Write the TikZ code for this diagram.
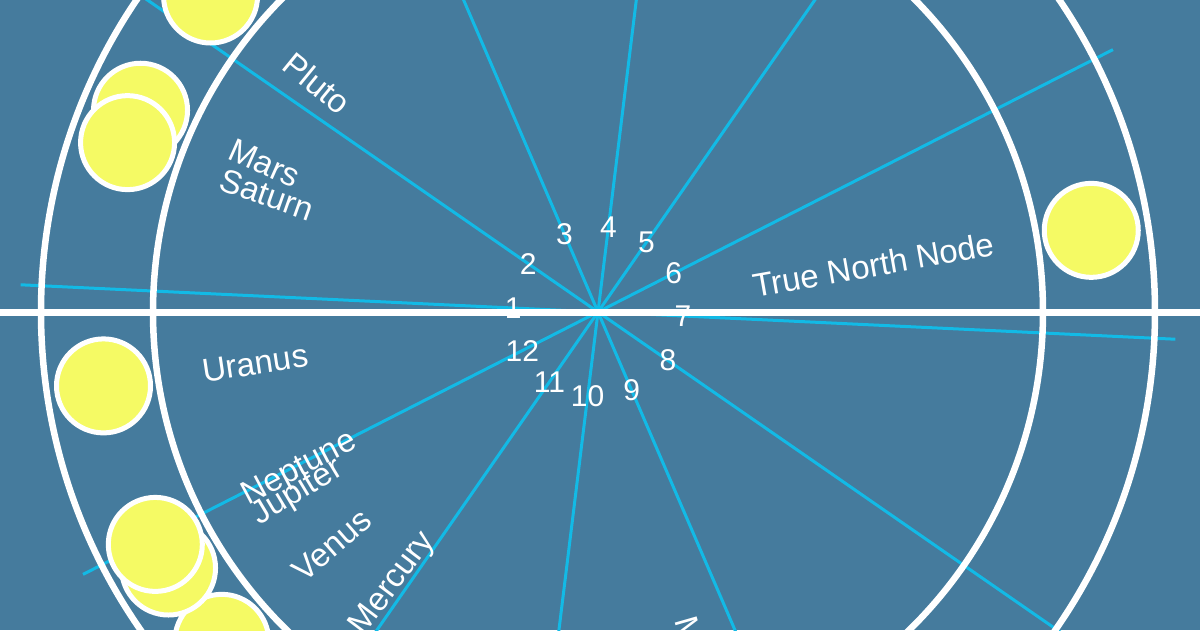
\documentclass[tikz,border=0pt]{standalone}
\usepackage{fontspec}
\setmainfont{Liberation Sans}
\usetikzlibrary{
  calc,
  positioning}
\definecolor{chartbg}{HTML}{457B9D}
\definecolor{cuspblue}{RGB}{18,186,230}
\definecolor{planetyellow}{RGB}{245,250,100}

\begin{document}
\begin{tikzpicture}[
  x=1pt,y=1pt,
  cusp/.style={draw=cuspblue,line width=3pt},
  ring/.style={draw=white,line width=6.5pt},
  horizon/.style={draw=white,line width=7pt},
  planet/.style={circle,draw=white,fill=planetyellow,line width=5pt,minimum size=94pt,inner sep=0pt},
  pleft/.style={anchor=west,text=white,inner sep=0pt,font=\fontsize{33}{39}\selectfont},
  pright/.style={anchor=east,text=white,inner sep=0pt,font=\fontsize{33}{39}\selectfont},
  hnum/.style={text=white,inner sep=0pt,font=\fontsize{30}{35}\selectfont}
]%
  \useasboundingbox (-598pt,-318pt) rectangle (602pt,312pt);
  \clip (-598pt,-318pt) rectangle (602pt,312pt);
  \fill[chartbg] (-598pt,-318pt) rectangle (602pt,312pt);

  \coordinate (c) at (0pt,0pt);

  % cusp lines
  \coordinate (cA1) at (177.3:578pt);
  \coordinate (cA2) at (357.3:578pt);
  \coordinate (cB1) at (145.3:578pt);
  \coordinate (cB2) at (325.3:578pt);
  \coordinate (cC1) at (113.3:578pt);
  \coordinate (cC2) at (293.3:578pt);
  \coordinate (cD1) at (83.0:578pt);
  \coordinate (cD2) at (263.0:578pt);
  \coordinate (cE1) at (55.2:578pt);
  \coordinate (cE2) at (235.2:578pt);
  \coordinate (cF1) at (27.0:578pt);
  \coordinate (cF2) at (207.0:578pt);

  \draw[cusp] (cA1) -- (cA2);
  \draw[cusp] (cB1) -- (cB2);
  \draw[cusp] (cC1) -- (cC2);
  \draw[cusp] (cD1) -- (cD2);
  \draw[cusp] (cE1) -- (cE2);
  \draw[cusp] (cF1) -- (cF2);

  \draw[ring] (c) circle (445pt);
  \draw[ring] (c) circle (557pt);

  \coordinate (hL) at (-598pt,0pt);
  \coordinate (hR) at (602pt,0pt);
  \draw[horizon] (hL) -- (hR);

  % planets
  \node[planet] (pVenus)   at (221.2:500pt) {};
  \node[planet] (pMars)    at (156.2:500pt) {};
  \node[planet] (pJupiter) at (210.8:500pt) {};
  \node[planet] (pSaturn)  at (160.2:500pt) {};
  \node[planet] (pUranus)  at (188.5:500pt) {};
  \node[planet] (pNeptune) at (207.7:500pt) {};
  \node[planet] (pPluto)   at (140.8:500pt) {};
  \node[planet] (pNode)    at (9.4:500pt)   {};

  \node[pright,rotate=-74]   (lMoon)    at (-74:400pt)    {Moon};
  \node[pleft,rotate=53]     (lMercury) at (233:400pt)    {Mercury};
  \node[pleft,rotate=41.2]   (lVenus)   at (221.2:400pt)  {Venus};
  \node[pleft,rotate=-24]    (lMars)    at (156:402pt)    {Mars};
  \node[pleft,rotate=31]     (lJupiter) at (211:400pt)    {Jupiter};
  \node[pleft,rotate=-19.5]  (lSaturn)  at (160.5:400pt)  {Saturn};
  \node[pleft,rotate=8.5]    (lUranus)  at (188.5:400pt)  {Uranus};
  \node[pleft,rotate=27.8]   (lNeptune) at (207.8:400pt)  {Neptune};
  \node[pleft,rotate=-39.2]  (lPluto)   at (140.8:400pt)  {Pluto};
  \node[pright,rotate=10]    (lNode)    at (9.8:402pt)    {True North Node};

  % house numbers
  \node[hnum] (h1)  at (177.3:85pt) {1};
  \node[hnum] (h2)  at (145.3:85pt) {2};
  \node[hnum] (h3)  at (113.3:85pt) {3};
  \node[hnum] (h4)  at (83.0:85pt)  {4};
  \node[hnum] (h5)  at (55.2:85pt)  {5};
  \node[hnum] (h6)  at (27.0:85pt)  {6};
  \node[hnum] (h7)  at (357.3:85pt) {7};
  \node[hnum] (h8)  at (325.3:85pt) {8};
  \node[hnum] (h9)  at (293.3:85pt) {9};
  \node[hnum] (h10) at (263.0:85pt) {10};
  \node[hnum] (h11) at (235.2:85pt) {11};
  \node[hnum] (h12) at (207.0:85pt) {12};

\end{tikzpicture}
\end{document}
